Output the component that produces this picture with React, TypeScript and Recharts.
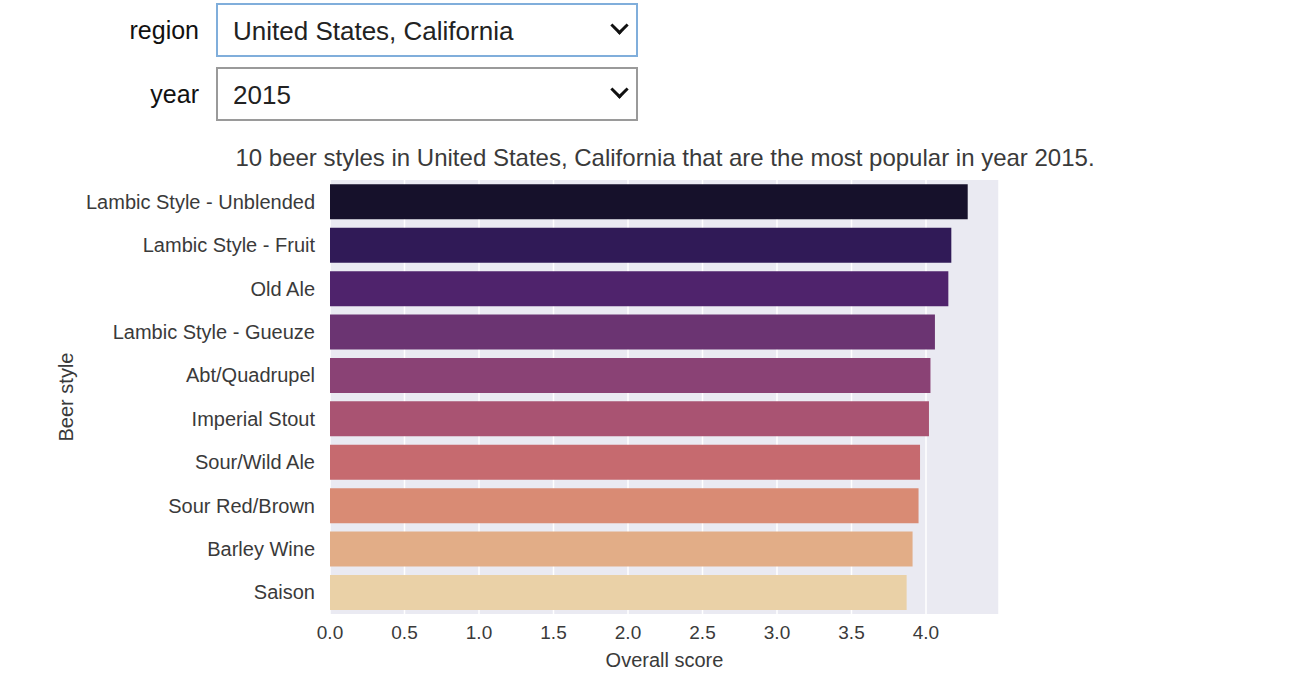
import React from 'react';
import { BarChart, Bar, Cell, XAxis, YAxis, CartesianGrid } from 'recharts';

const beerStyles = [
  'Lambic Style - Unblended',
  'Lambic Style - Fruit',
  'Old Ale',
  'Lambic Style - Gueuze',
  'Abt/Quadrupel',
  'Imperial Stout',
  'Sour/Wild Ale',
  'Sour Red/Brown',
  'Barley Wine',
  'Saison',
];

const overallScores = [4.28, 4.17, 4.15, 4.06, 4.03, 4.02, 3.96, 3.95, 3.91, 3.87];

const barColors = [
  '#16112b', '#301a57', '#4f236c', '#6b3472', '#8a4275',
  '#a95372', '#c66a6f', '#d98b74', '#e2ad87', '#ead1a7',
];

const scoreTicks = [0, 0.5, 1.0, 1.5, 2.0, 2.5, 3.0, 3.5, 4.0];

const regionValue = 'United States, California';
const yearValue = '2015';

const FONT = 'Liberation Sans, Arial, sans-serif';
const TEXT = '#3a3a3a';

const pageStyle: React.CSSProperties = {
  position: 'absolute', left: 0, top: 0, width: 1312, height: 698, background: '#fff', fontFamily: FONT,
};
const chartWrap: React.CSSProperties = { position: 'absolute', left: 0, top: 0 };
const rowStyle = (top: number): React.CSSProperties => ({ position: 'absolute', left: 0, top: top, width: 640, height: 54 });
const labelStyle: React.CSSProperties = {
  position: 'absolute', left: 0, width: 199, top: 11, textAlign: 'right', fontSize: 25, color: '#111', lineHeight: '32px',
};
const boxStyle = (borderColor: string): React.CSSProperties => ({
  position: 'absolute', left: 216, top: 0, width: 422, height: 54, boxSizing: 'border-box',
  borderWidth: 2, borderStyle: 'solid', borderColor: borderColor, background: '#fff',
});
const valueStyle: React.CSSProperties = {
  position: 'absolute', left: 15, top: 10, fontSize: 26, color: '#222', lineHeight: '32px',
};
const chevronStyle: React.CSSProperties = {
  position: 'absolute', left: 395, top: 14, width: 10, height: 10,
  borderRight: '3px solid #111', borderBottom: '3px solid #111', transform: 'rotate(45deg)',
};
const titleStyle: React.CSSProperties = {
  position: 'absolute', left: 165, width: 1000, top: 144, textAlign: 'center', fontSize: 24, color: TEXT, whiteSpace: 'nowrap',
};
const xLabelStyle: React.CSSProperties = {
  position: 'absolute', left: 330, width: 669, top: 649, textAlign: 'center', fontSize: 20, color: TEXT,
};
const yLabelStyle: React.CSSProperties = {
  position: 'absolute', left: 66, top: 397, fontSize: 20, color: TEXT, whiteSpace: 'nowrap',
  transform: 'translate(-50%, -50%) rotate(-90deg)',
};

const chartMargin = { top: 180, right: 313, bottom: 44, left: 0 };
const xTickProps = { fill: TEXT, fontSize: 19 };
const yTickProps = { fill: TEXT, fontSize: 20 };
const xDomain = [0, 4.49];

function FakeSelect(props: { label: string; value: string; top: number; borderColor: string }) {
  return (
    <div style={rowStyle(props.top)}>
      <div style={labelStyle}>{props.label}</div>
      <div style={boxStyle(props.borderColor)}>
        <div style={valueStyle}>{props.value}</div>
        <div style={chevronStyle} />
      </div>
    </div>
  );
}

const fmt = (v: number) => v.toFixed(1);

export default function App() {
  // note: key must not be called "style", recharts spreads row fields onto the bar shape
  const data = beerStyles.map((name, i) => ({ beer: name, score: overallScores[i] }));

  return (
    <div style={pageStyle}>
      <div style={chartWrap}>
        <BarChart
          width={1312}
          height={698}
          data={data}
          layout="vertical"
          margin={chartMargin}
          barCategoryGap="10%"
        >
          <CartesianGrid horizontal={false} stroke="#ffffff" strokeWidth={1.5} fill="#eaeaf2" />
          <XAxis
            type="number"
            dataKey="score"
            domain={xDomain}
            ticks={scoreTicks}
            tickFormatter={fmt}
            axisLine={false}
            tickLine={false}
            tickSize={0}
            tickMargin={12}
            height={40}
            tick={xTickProps}
          />
          <YAxis
            type="category"
            dataKey="beer"
            width={330}
            axisLine={false}
            tickLine={false}
            tickSize={0}
            tickMargin={15}
            tick={yTickProps}
          />
          <Bar dataKey="score" isAnimationActive={false}>
            {data.map((d, i) => (
              <Cell key={d.beer} fill={barColors[i]} />
            ))}
          </Bar>
        </BarChart>
      </div>

      <FakeSelect label="region" value={regionValue} top={3} borderColor="#80aedb" />
      <FakeSelect label="year" value={yearValue} top={67} borderColor="#9a9a9a" />

      <div style={titleStyle}>
        10 beer styles in United States, California that are the most popular in year 2015.
      </div>
      <div style={xLabelStyle}>Overall score</div>
      <div style={yLabelStyle}>Beer style</div>
    </div>
  );
}
